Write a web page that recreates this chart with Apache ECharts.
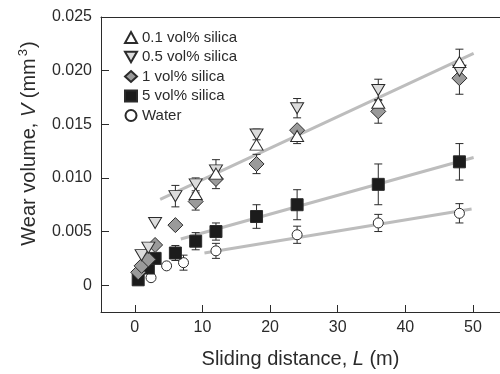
<!DOCTYPE html>
<html>
<head>
<meta charset="utf-8">
<script src="https://cdn.jsdelivr.net/npm/echarts@6/dist/echarts.min.js"></script>
<style>
  html, body { margin: 0; padding: 0; background: #fff; }
  #chart { width: 500px; height: 374px; }
</style>
</head>
<body>
<div id="chart"></div>
<script>
// values
const names = ['0.1 vol% silica', '0.5 vol% silica', '1 vol% silica', '5 vol% silica', 'Water']

const x01 = [9, 12, 18, 24, 36, 48]
const y01 = [0.0085, 0.0104, 0.0131, 0.0139, 0.0170, 0.0208]
const e01 = [0, 0, 0, 0.0007, 0, 0.0012]

const x05 = [1, 2, 3, 6, 9, 12, 18, 24, 36, 48]
const y05 = [0.0028, 0.0035, 0.0058, 0.0083, 0.0094, 0.0107, 0.01405, 0.0165, 0.0182, 0.0200]
const e05 = [0, 0, 0, 0.001, 0.0006, 0.001, 0.0005, 0.0009, 0.001, 0]

const x1 = [0.5, 1, 2, 3, 6, 9, 12, 18, 24, 36, 48]
const y1 = [0.0012, 0.0018, 0.0024, 0.00375, 0.0056, 0.0078, 0.0099, 0.0113, 0.01445, 0.0162, 0.0193]
const e1 = [0, 0, 0, 0, 0, 0.0008, 0.0009, 0.0009, 0, 0.0011, 0.0015]

const x5 = [0.5, 2, 3, 6, 9, 12, 18, 24, 36, 48]
const y5 = [0.0005, 0.0016, 0.0025, 0.0030, 0.0041, 0.0050, 0.0064, 0.0075, 0.0094, 0.0115]
const e5 = [0, 0, 0, 0.0007, 0.0008, 0.0008, 0.0011, 0.0014, 0.0019, 0.0017]

const xW = [2.4, 4.7, 7.2, 12, 24, 36, 48]
const yW = [0.0007, 0.0018, 0.0021, 0.0032, 0.0047, 0.0058, 0.0067]
const eW = [0, 0, 0.0007, 0.0007, 0.0008, 0.0008, 0.0009]

// fitted trend lines (end points)
const fitHigh = [[3.75, 0.0080], [50.1, 0.0216]]
const fitMid = [[6.8, 0.0043], [50.1, 0.0119]]
const fitLow = [[10.3, 0.0030], [49.8, 0.0071]]

const xTicks = [0, 10, 20, 30, 40, 50]
const yTicks = [0, 0.005, 0.010, 0.015, 0.020, 0.025]

const ink = '#2b2b2b'
const font = 'Liberation Sans, Arial, sans-serif'
const downTri = 'path://M0,0 L12,0 L6,10.4 Z'

const pts = (xs, ys) => xs.map((x, i) => [x, ys[i]])
const errs = (xs, ys, es) => xs.map((x, i) => [x, ys[i], es[i]]).filter(d => d[2] > 0)

function errorBar(params, api) {
  const x = api.value(0), y = api.value(1), e = api.value(2)
  const top = api.coord([x, y + e])
  const bot = api.coord([x, y - e])
  const cap = 4
  const style = { stroke: ink, lineWidth: 1 }
  return {
    type: 'group',
    children: [
      { type: 'line', shape: { x1: top[0], y1: top[1], x2: bot[0], y2: bot[1] }, style },
      { type: 'line', shape: { x1: top[0] - cap, y1: top[1], x2: top[0] + cap, y2: top[1] }, style },
      { type: 'line', shape: { x1: bot[0] - cap, y1: bot[1], x2: bot[0] + cap, y2: bot[1] }, style },
    ],
  }
}

const fitLine = (data) => ({
  type: 'line',
  data,
  symbol: 'none',
  silent: true,
  lineStyle: { color: '#bdbdbd', width: 3 },
  z: 1,
})

const errSeries = (data) => ({
  type: 'custom',
  renderItem: errorBar,
  data,
  silent: true,
  z: 2,
})

const marker = (name, data, symbol, size, fill, z) => ({
  name,
  type: 'scatter',
  data,
  symbol,
  symbolSize: size,
  itemStyle: { color: fill, borderColor: ink, borderWidth: 1, opacity: 1 },
  z,
})

const titleRich = {
  n: { fontFamily: font, fontSize: 20, color: ink, lineHeight: 24 },
  i: { fontFamily: font, fontSize: 20, color: ink, fontStyle: 'italic', lineHeight: 24 },
  s: { fontFamily: font, fontSize: 13, color: ink, verticalAlign: 'top', lineHeight: 24, padding: [0, 1, 6, 2] },
}

const chart = echarts.init(document.getElementById('chart'))

chart.setOption({
  animation: false,
  grid: { left: 101, top: 17, right: 0, bottom: 59 },
  legend: {
    data: names,
    orient: 'vertical',
    left: 119,
    top: 25,
    itemWidth: 12,
    itemHeight: 11,
    itemGap: 4.5,
    textStyle: { fontFamily: font, fontSize: 15, color: ink },
  },
  xAxis: [
    {
      type: 'value',
      min: -5,
      max: 54,
      name: '{n|Sliding distance, }{i|L}{n| (m)}',
      nameLocation: 'middle',
      nameGap: 35,
      nameTextStyle: { rich: titleRich },
      axisLine: { show: true, onZero: false, lineStyle: { color: ink, width: 1 } },
      axisTick: { show: true, inside: true, length: 7, customValues: xTicks, lineStyle: { color: ink } },
      axisLabel: { customValues: xTicks, margin: 8, fontFamily: font, fontSize: 16, color: ink },
      splitLine: { show: false },
    },
    {
      type: 'value',
      position: 'top',
      min: -5,
      max: 54,
      axisLine: { show: true, onZero: false, lineStyle: { color: ink, width: 1 } },
      axisTick: { show: false },
      axisLabel: { show: false },
      splitLine: { show: false },
    },
  ],
  yAxis: {
    type: 'value',
    min: -0.0025,
    max: 0.025,
    name: '{n|Wear volume, }{i|V}{n| (mm}{s|3}{n|)}',
    nameLocation: 'middle',
    nameGap: 60,
    nameTextStyle: { padding: [0, 0, 0, 42], rich: titleRich },
    axisLine: { show: true, onZero: false, lineStyle: { color: ink, width: 1 } },
    axisTick: { show: true, inside: true, length: 8, customValues: yTicks, lineStyle: { color: ink } },
    axisLabel: {
      customValues: yTicks,
      margin: 9,
      fontFamily: font,
      fontSize: 16,
      color: ink,
      formatter: v => (v === 0 ? '0' : v.toFixed(3)),
    },
    splitLine: { show: false },
  },
  series: [
    fitLine(fitHigh),
    fitLine(fitMid),
    fitLine(fitLow),
    errSeries(errs(x01, y01, e01)),
    errSeries(errs(x05, y05, e05)),
    errSeries(errs(x1, y1, e1)),
    errSeries(errs(x5, y5, e5)),
    errSeries(errs(xW, yW, eW)),
    marker(names[4], pts(xW, yW), 'circle', 10, '#ffffff', 3),
    marker(names[3], pts(x5, y5), 'rect', 12, '#1c1c1c', 4),
    marker(names[2], pts(x1, y1), 'diamond', 15, '#9a9a9a', 5),
    marker(names[1], pts(x05, y05), downTri, [13, 11], '#dcdcdc', 6),
    marker(names[0], pts(x01, y01), 'triangle', [13, 11], '#ffffff', 7),
  ],
})
</script>
</body>
</html>
